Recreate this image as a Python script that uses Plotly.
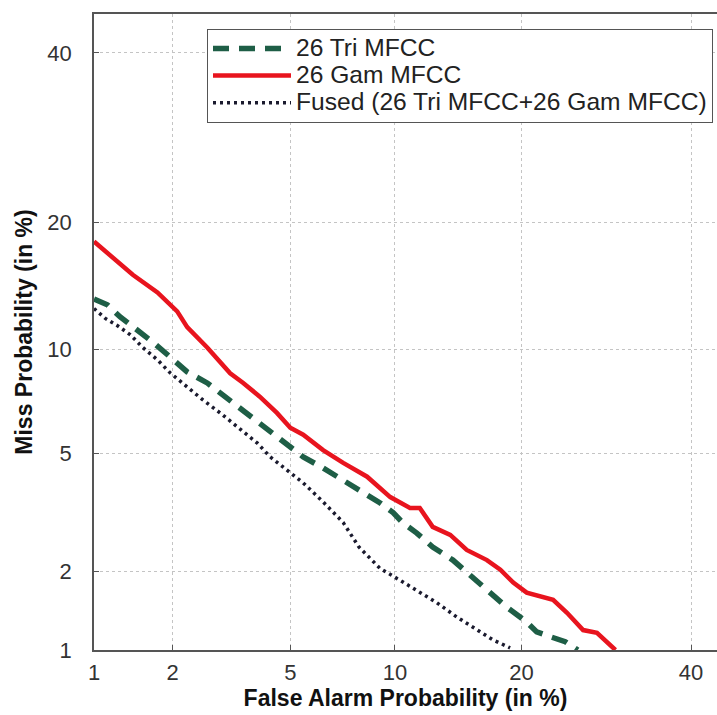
import plotly.graph_objects as go
from statistics import NormalDist

# ---- data (percent) ----
tick_vals_pct = [1, 2, 5, 10, 20, 40]
tick_text = ["1", "2", "5", "10", "20", "40"]

tri_fa = [1.0, 1.13, 1.27, 1.52, 1.70, 1.96, 2.26, 2.66, 2.95, 3.37, 3.80, 4.32, 4.89, 5.48, 6.29,
          7.2, 8.2, 9.13, 9.89, 10.5, 11.4, 12.5, 14.0, 15.6, 17.1, 18.6, 20.5, 21.5, 22.9, 24.5, 25.9]
tri_miss = [13.4, 12.97, 12.1, 11.1, 10.4, 9.53, 8.68, 8.09, 7.58, 6.92, 6.34, 5.79, 5.33, 4.89, 4.51,
            4.13, 3.75, 3.47, 3.22, 2.97, 2.74, 2.45, 2.20, 1.89, 1.67, 1.47, 1.29, 1.18, 1.13, 1.08, 1.0]

gam_fa = [1.0, 1.42, 1.76, 2.08, 2.26, 2.66, 3.19, 3.52, 4.0, 4.54, 5.0, 5.48, 6.29, 7.2, 8.41, 9.72,
          10.95, 11.6, 12.5, 13.8, 15.1, 16.8, 18.0, 19.2, 20.5, 23.2, 24.7, 26.5, 28.1, 29.3, 30.3]
gam_miss = [18.2, 15.3, 13.9, 12.5, 11.4, 10.1, 8.6, 8.1, 7.4, 6.64, 6.0, 5.72, 5.13, 4.68, 4.23, 3.63,
            3.34, 3.34, 2.88, 2.70, 2.39, 2.20, 2.03, 1.82, 1.67, 1.57, 1.40, 1.20, 1.17, 1.07, 1.0]

fus_fa = [1.0, 1.11, 1.24, 1.39, 1.55, 1.76, 1.96, 2.26, 2.57, 2.95, 3.37, 3.92, 4.32, 4.89, 5.48,
          6.29, 7.2, 7.98, 9.13, 10.3, 11.6, 12.8, 14.3, 16.0, 17.3, 18.9]
fus_miss = [12.7, 12.0, 11.5, 10.9, 10.1, 9.36, 8.63, 7.88, 7.24, 6.64, 6.03, 5.40, 4.89, 4.45, 4.04,
            3.50, 2.98, 2.45, 2.05, 1.86, 1.67, 1.53, 1.35, 1.20, 1.10, 1.02]

names = ["26 Tri MFCC", "26 Gam MFCC", "Fused (26 Tri MFCC+26 Gam MFCC)"]

nd = NormalDist()


def probit(vals):
    return [nd.inv_cdf(v / 100.0) for v in vals]


W, H = 717, 715
ML, MR, MT, MB = 94, 0, 14, 65
PX_PER_UNIT = 288.0
x0 = probit([1])[0]
xr = [x0, x0 + (W - ML - MR) / PX_PER_UNIT]
yr = [x0, x0 + (H - MT - MB) / PX_PER_UNIT]

FONT = "Liberation Sans, Arial, sans-serif"


def leg(name):
    return '<span style="font-size:24.6px">' + name + '</span>'


fig = go.Figure()
fig.add_trace(go.Scatter(x=probit(tri_fa), y=probit(tri_miss), mode="lines", name=leg(names[0]),
                         line=dict(color="#1e5e46", width=5.5, dash="16px,10px")))
fig.add_trace(go.Scatter(x=probit(gam_fa), y=probit(gam_miss), mode="lines", name=leg(names[1]),
                         line=dict(color="#e8141e", width=4.5)))
fig.add_trace(go.Scatter(x=probit(fus_fa), y=probit(fus_miss), mode="lines", name=leg(names[2]),
                         line=dict(color="#1a1a2e", width=3.5, dash="3px,4px")))

axis_common = dict(
    tickmode="array", tickvals=probit(tick_vals_pct), ticktext=tick_text,
    showgrid=True, gridcolor="#c4c4c4", griddash="dot", gridwidth=1,
    showline=True, linecolor="#555555", linewidth=1.5,
    ticks="inside", ticklen=5, tickcolor="#555555",
    tickfont=dict(family=FONT, size=22, color="#333333"),
    zeroline=False,
)

fig.update_layout(
    width=W, height=H,
    margin=dict(l=ML, r=MR, t=MT, b=MB),
    paper_bgcolor="white", plot_bgcolor="white",
    showlegend=True,
    legend=dict(x=(207 - ML) / (W - ML - MR), y=(H - MB - 29) / (H - MT - MB),
                xanchor="left", yanchor="top",
                bgcolor="white", bordercolor="#555555", borderwidth=1,
                font=dict(family=FONT, size=18.5, color="#222222"),
                itemwidth=78, tracegroupgap=0),
    xaxis=dict(range=xr, mirror=True, ticklabelstandoff=2,
               title=dict(text="<b>False Alarm Probability (in %)</b>", standoff=4,
                          font=dict(family=FONT, size=23, color="#111111")),
               **axis_common),
    yaxis=dict(range=yr, mirror=False, ticklabelstandoff=16,
               title=dict(text="<b>Miss Probability (in %)</b>", standoff=8,
                          font=dict(family=FONT, size=23, color="#111111")),
               **axis_common),
)

fig.write_html("out.html")
